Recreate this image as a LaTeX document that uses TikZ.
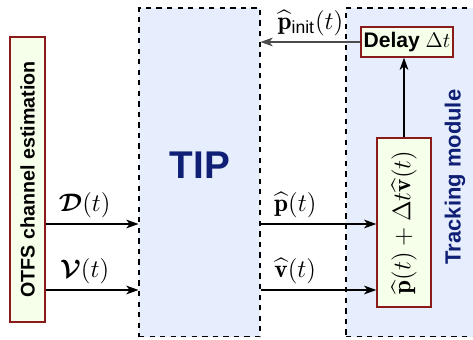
\documentclass[tikz,border=0pt]{standalone}
\usepackage{amsmath}
\usepackage{amssymb}
\usepackage{bm}
\usepackage{fontspec}
\setsansfont{Liberation Sans}
\usepackage{tikz}
\usetikzlibrary{arrows.meta,calc}
\definecolor{boxred}{HTML}{8B1A1A}
\definecolor{boxfill}{HTML}{F6FFE9}
\definecolor{modfill}{HTML}{E6EDFC}
\definecolor{navy}{HTML}{0F1F75}

\begin{document}
\begin{tikzpicture}[x=0.02cm, y=-0.02cm, >={Stealth[length=7pt,width=5pt,inset=2pt]},
    redbox/.style={draw=boxred, fill=boxfill, thick, inner sep=0pt},
    module/.style={draw, dashed, fill=modfill, semithick, inner sep=0pt},
    every path/.style={semithick}]
    \useasboundingbox (0,0) rectangle (473,340);
    % Modules
    \node[module, minimum width=2.42cm, minimum height=6.58cm] (tip) at (199.5,172.5) {};
    \node[module, minimum width=2.88cm, minimum height=6.58cm] (track) at (418,172.5) {};
    \node[text=navy, font=\sffamily\bfseries\fontsize{22}{26}\selectfont] (tiplabel) at (200,165) {TIP};
    \node[text=navy, rotate=90, font=\sffamily\bfseries\fontsize{12.5}{15}\selectfont] (tracklabel) at (455,177) {Tracking module};
    % Blocks
    \node[redbox, rotate=90, minimum width=5.7cm, minimum height=0.7cm, font=\sffamily\bfseries\fontsize{11.2}{13}\selectfont] (otfs) at (27.5,179.5) {OTFS channel estimation};
    \node[redbox, minimum width=1.84cm, minimum height=0.6cm, font=\large] (delay) at (407,42) {\sffamily\bfseries Delay $\Delta t$};
    \node[redbox, rotate=90, minimum width=3.38cm, minimum height=1.08cm, font=\Large] (upd) at (404,222.5) {$\widehat{\mathbf{p}}(t)+\Delta t\widehat{\mathbf{v}}(t)$};
    % Levels
    \coordinate (dlev) at (0,224);
    \coordinate (vlev) at (0,290);
    % Paths
    \draw[->] (otfs.south |- dlev) -- node[above, pos=0.42, font=\Large] {$\bm{\mathcal{D}}(t)$} (tip.west |- dlev);
    \draw[->] (otfs.south |- vlev) -- node[above, pos=0.42, font=\Large] {$\bm{\mathcal{V}}(t)$} (tip.west |- vlev);
    \draw[->] (tip.east |- dlev) -- node[above, pos=0.3, font=\Large] {$\widehat{\mathbf{p}}(t)$} (upd.north |- dlev);
    \draw[->] (tip.east |- vlev) -- node[above, pos=0.3, font=\Large] {$\widehat{\mathbf{v}}(t)$} (upd.north |- vlev);
    \draw[->, black!70] (delay.west) -- node[above, pos=0.5, text=black, font=\Large] {$\widehat{\mathbf{p}}_{\textsf{init}}(t)$} (tip.east |- delay.west);
    \draw[->] (upd.east) -- (upd.east |- delay.south);
\end{tikzpicture}
\end{document}
